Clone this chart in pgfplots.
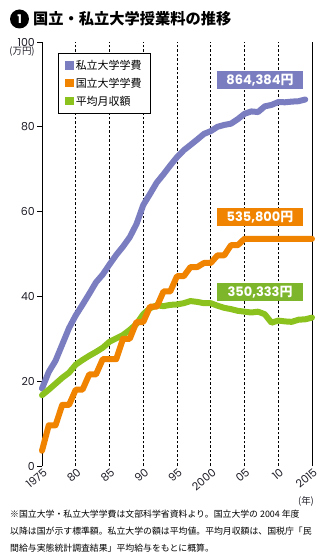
\documentclass[border=0pt]{standalone}
\usepackage{pgfplots}
\pgfplotsset{compat=1.18}
\usepackage{pgfplotstable}
\usepackage{fontspec}
\setmainfont{Noto Sans CJK JP}
\newfontfamily\cjk{Noto Sans CJK JP}
\newfontfamily\num{Poppins}
\XeTeXlinebreaklocale "ja"
\XeTeXlinebreakskip=0pt plus 1pt
\definecolor{cpurple}{HTML}{7A7DC0}
\definecolor{corange}{HTML}{F08300}
\definecolor{cgreen}{HTML}{8CC21E}
\definecolor{cgreenbox}{HTML}{7DB52B}
\definecolor{ctext}{HTML}{1E1E28}

\pgfplotstableread{
year val
1975 18.27
1976 22.18
1977 24.81
1978 28.66
1979 32.52
1980 35.52
1981 38.03
1982 40.63
1983 43.32
1984 45.17
1985 47.53
1986 49.78
1987 51.74
1988 53.96
1989 57.06
1990 61.55
1991 64.16
1992 66.85
1993 68.80
1994 70.88
1995 72.84
1996 74.47
1997 75.72
1998 77.00
1999 78.33
2000 78.97
2001 80.00
2002 80.44
2003 80.74
2004 81.80
2005 83.06
2006 83.63
2007 83.48
2008 84.82
2009 85.16
2010 85.83
2011 85.78
2012 85.94
2013 86.03
2014 86.44
}\privatetab

\pgfplotstableread{
year val
1975 3.60
1976 9.60
1977 9.60
1978 14.40
1979 14.40
1980 18.00
1981 18.00
1982 21.60
1983 21.60
1984 25.20
1985 25.20
1986 25.20
1987 30.00
1988 30.00
1989 33.96
1990 33.96
1991 37.56
1992 37.56
1993 41.16
1994 41.16
1995 44.76
1996 44.76
1997 46.92
1998 46.92
1999 47.88
2000 47.88
2001 49.68
2002 49.68
2003 52.08
2004 52.08
2005 53.58
2006 53.58
2007 53.58
2008 53.58
2009 53.58
2010 53.58
2011 53.58
2012 53.58
2013 53.58
2014 53.58
2015 53.58
}\nationaltab

\pgfplotstableread{
year val
1975 16.7
1976 18.0
1977 19.4
1978 20.8
1979 22.0
1980 23.9
1981 25.0
1982 26.0
1983 26.9
1984 27.9
1985 29.3
1986 30.1
1987 30.9
1988 32.1
1989 33.5
1990 35.8
1991 37.2
1992 37.9
1993 37.7
1994 38.0
1995 38.1
1996 38.4
1997 38.9
1998 38.7
1999 38.4
2000 38.4
2001 37.8
2002 37.3
2003 37.0
2004 36.6
2005 36.4
2006 36.2
2007 36.4
2008 35.8
2009 33.8
2010 34.3
2011 34.1
2012 34.0
2013 34.5
2014 34.6
2015 35.0
}\incometab

\begin{document}
\begin{tikzpicture}
% title
\fill[black] (19.5bp,541bp) circle (9.5bp);
\node[text=white, font=\num\bfseries\fontsize{12}{12}\selectfont, inner sep=0] at (19.5bp,541bp) {1};
\node[anchor=west, inner sep=0, font=\cjk\bfseries\fontsize{15.3}{17}\selectfont] at (33bp,541bp) {国立・私立大学授業料の推移};

\begin{axis}[
  at={(42bp,94bp)}, anchor=south west,
  scale only axis, width=270bp, height=424bp,
  xmin=1975, xmax=2015, ymin=0, ymax=100,
  axis lines*=left,
  x axis line style={draw=none},
  y axis line style={black, line width=0.8bp},
  xtick={1975,1980,...,2015},
  xticklabels={1975,80,85,90,95,2000,05,10,2015},
  ytick={0,20,...,100},
  xtick style={draw=none},
  ytick style={black, line width=0.8bp},
  tick align=outside,
  major tick length=5bp,
  xmajorgrids,
  major x grid style={black, line width=0.6bp, dash pattern=on 2.5bp off 2bp},
  /pgf/number format/assume math mode=true,
  yticklabel style={font=\num\fontsize{11}{12}\selectfont, text=ctext, inner sep=2bp},
  xticklabel style={font=\num\fontsize{11}{12}\selectfont, text=ctext, rotate=40, anchor=east, xshift=4bp, yshift=-2bp, inner sep=1bp},
  clip=false,
  legend style={at={(rel axis cs:0.059,0.974)}, anchor=north west, draw=black, line width=0.7bp, fill=white,
    font=\cjk\fontsize{11}{13}\selectfont, inner xsep=7bp, inner ysep=5bp, row sep=3bp,
    cells={anchor=west}},
  legend image code/.code={\fill[#1,draw=none] (0bp,-4bp) rectangle (8.5bp,4.5bp);},
]
\addlegendimage{cpurple}
\addlegendentry{私立大学学費}
\addlegendimage{corange}
\addlegendentry{国立大学学費}
\addlegendimage{cgreen}
\addlegendentry{平均月収額}

\draw[black, line width=0.8bp] (axis cs:2015,0) -- (axis cs:2015,100);

\addplot[forget plot, cpurple, line width=6bp, line cap=round, line join=round] table[x=year, y=val] {\privatetab};
\addplot[forget plot, cgreen, line width=6bp, line cap=round, line join=round] table[x=year, y=val] {\incometab};
\addplot[forget plot, corange, line width=6bp, line cap=round, line join=round] table[x=year, y=val] {\nationaltab};

\node[fill=cpurple, text=white, minimum width=86bp, minimum height=18bp, inner sep=0] at (axis cs:2007.3,91.0) {\num\bfseries\fontsize{13}{13}\selectfont 864,384{\cjk\bfseries 円}};
\node[fill=corange, text=white, minimum width=86bp, minimum height=18bp, inner sep=0] at (axis cs:2007.3,58.7) {\num\bfseries\fontsize{13}{13}\selectfont 535,800{\cjk\bfseries 円}};
\node[fill=cgreenbox, text=white, minimum width=86bp, minimum height=18bp, inner sep=0] at (axis cs:2007.3,41.0) {\num\bfseries\fontsize{13}{13}\selectfont 350,333{\cjk\bfseries 円}};
\end{axis}

\node[inner sep=0, text=ctext, font=\cjk\fontsize{9.5}{11}\selectfont] at (22bp,508bp) {(万円)};
\node[inner sep=0, text=ctext, font=\cjk\fontsize{9.5}{11}\selectfont] at (306bp,59bp) {(年)};

\node[anchor=west, inner sep=0, font=\cjk\fontsize{8.9}{10}\selectfont] at (10bp,46bp) {\makebox[302bp][s]{※国立大学・私立大学学費は文部科学省資料より。国立大学の\hspace{2bp}2004\hspace{2bp}年度}};
\node[anchor=west, inner sep=0, font=\cjk\fontsize{8.9}{10}\selectfont] at (10bp,29bp) {\makebox[302bp][s]{以降は国が示す標準額。私立大学の額は平均値。平均月収額は、国税庁「民}};
\node[anchor=west, inner sep=0, font=\cjk\fontsize{8.9}{10}\selectfont] at (10bp,12bp) {間給与実態統計調査結果」平均給与をもとに概算。};

\pgfresetboundingbox
\path[use as bounding box] (0,0) rectangle (332bp,560bp);
\end{tikzpicture}
\end{document}
